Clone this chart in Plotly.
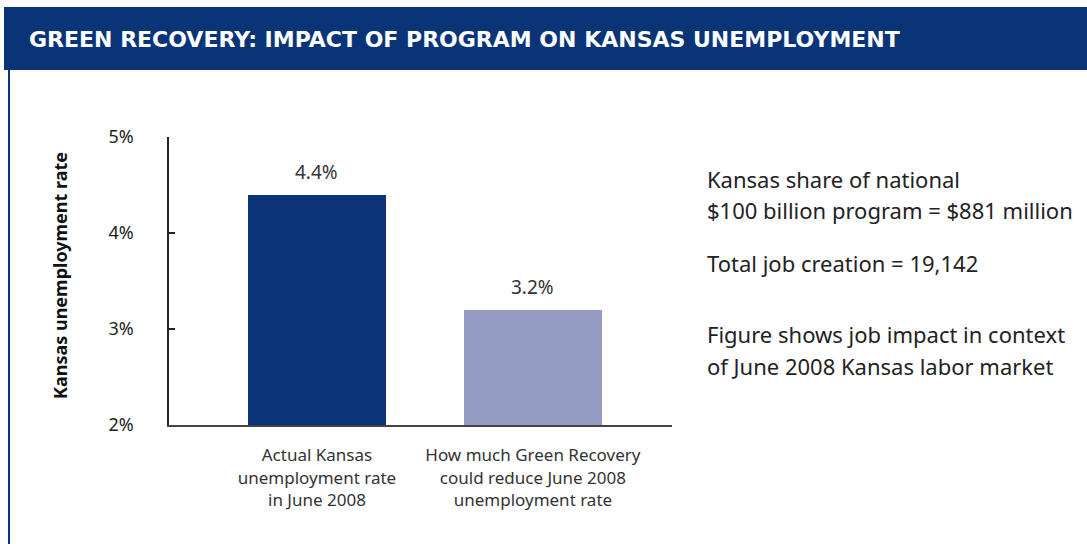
import plotly.graph_objects as go

categories = ["Actual Kansas<br>unemployment rate<br>in June 2008",
              "How much Green Recovery<br>could reduce June 2008<br>unemployment rate"]
values = [4.4, 3.2]
value_labels = ["4.4%", "3.2%"]
bar_colors = ["#0B3378", "#949CC2"]
y_ticks = [2, 3, 4, 5]
y_tick_labels = ["2%", "3%", "4%", "5%"]
title = "GREEN RECOVERY: IMPACT OF PROGRAM ON KANSAS UNEMPLOYMENT"
y_title = "Kansas unemployment rate"
side_notes = [
    ("Kansas share of national", 179),
    ("$100 billion program = $881 million", 210),
    ("Total job creation = 19,142", 263),
    ("Figure shows job impact in context", 334),
    ("of June 2008 Kansas labor market", 366),
]

W, H = 1087, 544
FONT = "Noto Sans"

fig = go.Figure()
fig.add_trace(go.Bar(
    x=[0, 1], y=values, base=0,
    marker=dict(color=bar_colors, line=dict(width=0)),
    width=0.64,
    hoverinfo="skip",
))

fig.update_layout(
    template="none",
    width=W, height=H,
    margin=dict(l=0, r=0, t=0, b=0, pad=0, autoexpand=False),
    paper_bgcolor="white", plot_bgcolor="white",
    showlegend=False,
    bargap=0,
    xaxis=dict(
        automargin=False,
        domain=[169 / W, 672 / W],
        range=[-0.685, 1.644],
        tickvals=[0, 1], ticktext=categories,
        tickfont=dict(family=FONT, size=17, color="#333333"),
        showgrid=False, zeroline=False,
        showline=True, linecolor="#444444", linewidth=2,
        ticks="", ticklabelstandoff=14,
    ),
    yaxis=dict(
        automargin=False,
        domain=[1 - 425 / H, 1 - 137 / H],
        range=[2, 5],
        tickvals=y_ticks, ticktext=y_tick_labels,
        tickfont=dict(family=FONT, size=18, color="#222222"),
        showgrid=False, zeroline=False,
        showline=True, linecolor="#222222", linewidth=1.5,
        ticks="inside", ticklen=6, tickcolor="#222222", tickwidth=1.5,
        ticklabelstandoff=30,
    ),
)

# Value labels above bars
for i, (v, lab) in enumerate(zip(values, value_labels)):
    fig.add_annotation(x=i, y=v, xref="x", yref="y", text=lab, showarrow=False,
                       xanchor="center", yanchor="bottom", yshift=8,
                       font=dict(family=FONT, size=19, color="#333333"))

# Banner
fig.add_shape(type="rect", xref="paper", yref="paper",
              x0=4 / W, x1=1.01, y0=1 - 70 / H, y1=1 - 7 / H,
              fillcolor="#0A3478", line=dict(width=0), layer="below")
# Left border line
fig.add_shape(type="line", xref="paper", yref="paper",
              x0=9 / W, x1=9 / W, y0=-0.01, y1=1 - 70 / H,
              line=dict(color="#0A3478", width=2))

fig.add_annotation(xref="paper", yref="paper", x=27 / W, y=1 - 40 / H,
                   text="<b>" + title + "</b>", showarrow=False,
                   xanchor="left", yanchor="middle",
                   font=dict(family="DejaVu Sans", size=22, color="white"))

fig.add_annotation(xref="paper", yref="paper", x=60 / W, y=1 - 276 / H,
                   text="<b>" + y_title + "</b>", showarrow=False,
                   textangle=-90, xanchor="center", yanchor="middle",
                   font=dict(family=FONT, size=18, color="#111111"))

for txt, yp in side_notes:
    fig.add_annotation(xref="paper", yref="paper", x=705 / W, y=1 - yp / H,
                       text=txt, showarrow=False, xanchor="left", yanchor="middle",
                       font=dict(family=FONT, size=22, color="#222222"))

post = ("document.body.style.margin='0';document.body.style.overflow='hidden';")
fig.write_html("out.html", config={"displayModeBar": False}, post_script=post)
